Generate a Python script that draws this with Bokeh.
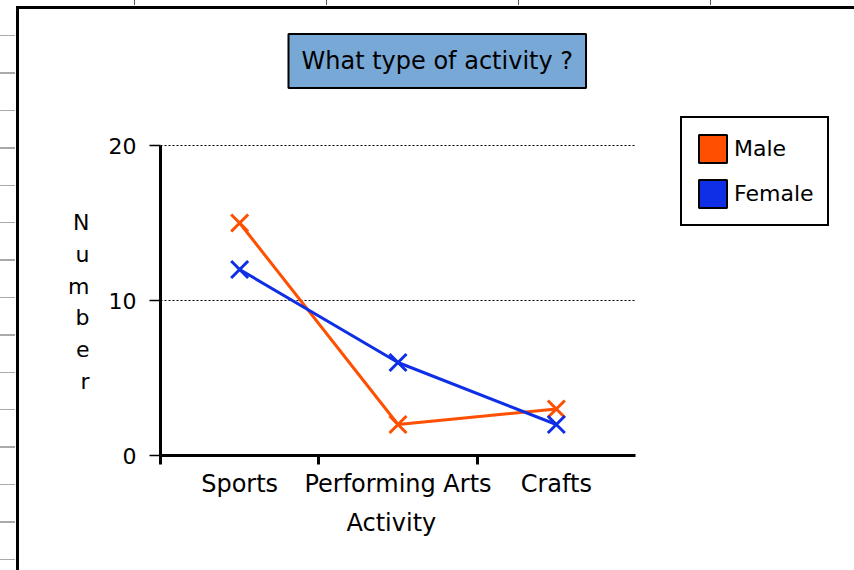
from bokeh.plotting import figure
from bokeh.models import Range1d, FixedTicker, Legend, LegendItem, Title
from bokeh.embed import file_html
from bokeh.resources import INLINE

categories = ["Sports", "Performing Arts", "Crafts"]
male = [15, 2, 3]
female = [12, 6, 2]
y_ticks = [0, 10, 20]
grid_ticks = [10, 20]
y_max = 20

ORANGE = "#FF4F00"
BLUE = "#0F2FE6"
TITLE_BG = "#78A8D6"
FONT = "DejaVu Sans"
FS = "22px"
FS_TXT = "24px"

n = len(categories)
pos = [i + 0.5 for i in range(n)]
bounds = list(range(n))

# layout (pixels): axes span x 160..635, y 145..455; frame extends to hold legend
W, H = 854, 570
AX_L, AX_R, AX_T, AX_B = 160, 635, 145, 455
FR_T = 116
x_end = n * (W - AX_L) / (AX_R - AX_L)
y_end = y_max * (AX_B - FR_T) / (AX_B - AX_T)

page_bg = ("linear-gradient(#000,#000) 16px 6px / 100% 3px no-repeat, "
           "linear-gradient(#000,#000) 16px 6px / 3px 100% no-repeat, "
           "repeating-linear-gradient(to bottom, transparent 0px, transparent 35px, "
           "#aaa 35px, #aaa 36.5px, transparent 36.5px, transparent 37.4px) 0 0 / 15px 100% no-repeat, "
           "repeating-linear-gradient(to right, transparent 0px, transparent 134px, "
           "#555 134px, #555 135px, transparent 135px, transparent 192px) 0 0 / 100% 5px no-repeat, "
           "#fff")

p = figure(width=W, height=H, output_backend="svg", toolbar_location=None,
           x_range=Range1d(0, x_end), y_range=Range1d(0, y_end),
           min_border_left=AX_L, min_border_right=0, min_border_top=FR_T,
           min_border_bottom=H - AX_B, styles={"background": page_bg})
p.border_fill_color = None
p.background_fill_color = None
p.outline_line_color = None
p.grid.visible = False

# title box
p.title.text = "What type of activity ?"
p.title.align = "left"
p.title.offset = 128
p.title.standoff = 57
p.title.text_font = FONT
p.title.text_font_size = FS_TXT
p.title.text_font_style = "normal"
p.title.text_color = "black"
p.title.background_fill_color = TITLE_BG
p.title.border_line_color = "black"
p.title.border_line_width = 2
p.title.padding = 13

# y axis
p.yaxis.bounds = (0, y_max)
p.yaxis.ticker = FixedTicker(ticks=y_ticks)
p.yaxis.axis_line_width = 3
p.yaxis.major_tick_out = 11
p.yaxis.major_tick_in = 0
p.yaxis.major_tick_line_width = 1.5
p.yaxis.minor_tick_line_color = None
p.yaxis.major_label_standoff = 13
p.yaxis.major_label_text_font = FONT
p.yaxis.major_label_text_font_size = FS
p.yaxis.major_label_text_color = "black"
p.yaxis.axis_label = "\n" + "\n".join("Number")
p.yaxis.axis_label_text_font = FONT
p.yaxis.axis_label_text_font_size = FS
p.yaxis.axis_label_text_font_style = "normal"
p.yaxis.axis_label_text_color = "black"
p.yaxis.axis_label_text_line_height = 1.27
p.yaxis.axis_label_standoff = 16
try:
    p.yaxis.axis_label_orientation = "horizontal"
except Exception:
    pass

# x axis
p.xaxis.bounds = (0, n)
p.xaxis.ticker = FixedTicker(ticks=pos, minor_ticks=bounds)
p.xaxis.major_label_overrides = {pos[i]: categories[i] for i in range(n)}
p.xaxis.axis_line_width = 3
p.xaxis.major_tick_line_color = None
p.xaxis.major_tick_out = 0
p.xaxis.major_tick_in = 0
p.xaxis.minor_tick_out = 9
p.xaxis.minor_tick_in = 0
p.xaxis.minor_tick_line_width = 3
p.xaxis.minor_tick_line_color = "black"
p.xaxis.major_label_standoff = 5
p.xaxis.major_label_text_font = FONT
p.xaxis.major_label_text_font_size = FS_TXT
p.xaxis.major_label_text_color = "black"

p.add_layout(Title(text="Activity", align="left", offset=186, standoff=12,
                   text_font=FONT, text_font_size=FS_TXT,
                   text_font_style="normal", text_color="black"), "below")

# dotted horizontal grid lines, limited to the axes' extent
p.segment(x0=[0] * len(grid_ticks), x1=[n] * len(grid_ticks),
          y0=grid_ticks, y1=grid_ticks, line_color="black",
          line_width=1, line_dash="2 2")

# series
p.line(pos, male, line_color=ORANGE, line_width=3)
p.scatter(pos, male, marker="x", size=24, line_color=ORANGE, line_width=3)
p.line(pos, female, line_color=BLUE, line_width=3)
p.scatter(pos, female, marker="x", size=24, line_color=BLUE, line_width=3)

# legend swatches (proxy renderers, nothing drawn in the plot)
nan = float("nan")
r_m = p.quad(left=[nan], right=[nan], top=[nan], bottom=[nan], fill_color=ORANGE,
             line_color="black", line_width=2)
r_f = p.quad(left=[nan], right=[nan], top=[nan], bottom=[nan], fill_color=BLUE,
             line_color="black", line_width=2)
legend = Legend(items=[LegendItem(label="Male", renderers=[r_m]),
                       LegendItem(label="Female", renderers=[r_f])],
                location=(680 - AX_L, AX_B - 226), orientation="vertical",
                border_line_color="black", border_line_width=2,
                border_line_alpha=1,
                padding=13, spacing=10, margin=0,
                glyph_width=35, glyph_height=35, label_height=35,
                label_standoff=4, label_text_font=FONT,
                label_text_font_size=FS, label_text_color="black",
                background_fill_color="white", background_fill_alpha=1)
p.add_layout(legend)

open("out.html", "w").write(file_html(p, INLINE))
